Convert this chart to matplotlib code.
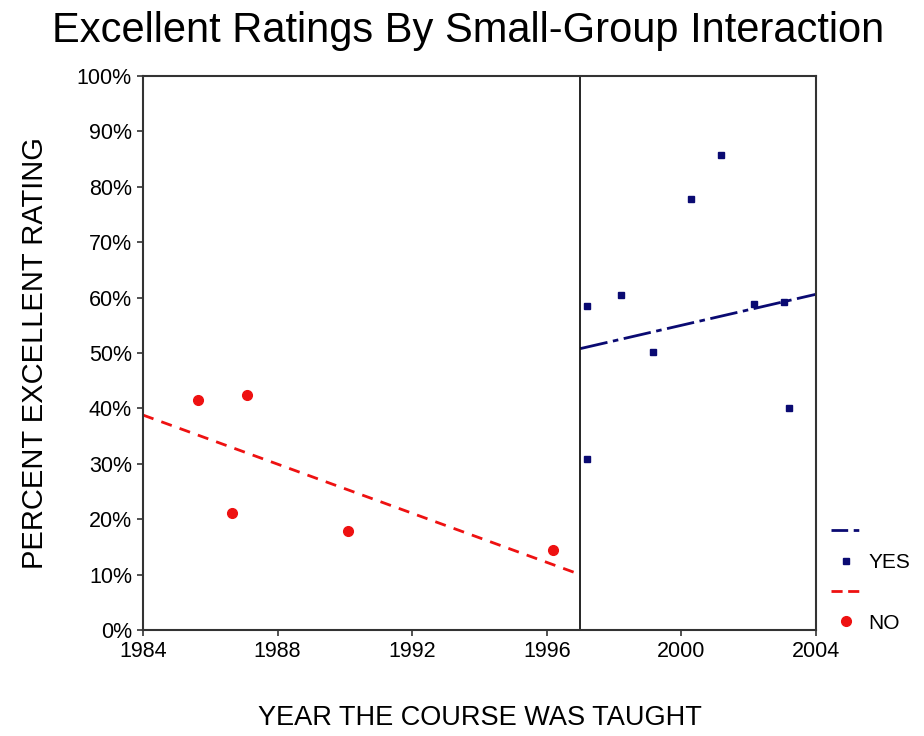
import matplotlib
matplotlib.use("Agg")
import matplotlib.pyplot as plt
from matplotlib.lines import Line2D

plt.rcParams['font.family'] = ['Liberation Sans', 'DejaVu Sans']

# data
no_years = [1985.63, 1986.65, 1987.10, 1990.08, 1996.20]
no_pct = [41.6, 21.1, 42.4, 17.9, 14.4]
yes_years = [1997.19, 1997.19, 1998.20, 1999.17, 2000.30, 2001.19, 2002.17, 2003.06, 2003.19]
yes_pct = [58.4, 30.9, 60.5, 50.1, 77.8, 85.7, 58.9, 59.3, 40.0]

# fitted trend lines (end points as drawn)
no_trend_x = [1984, 1997]
no_trend_y = [38.8, 10.0]
yes_trend_x = [1997, 2004]
yes_trend_y = [50.8, 60.6]

x_ticks = [1984, 1988, 1992, 1996, 2000, 2004]
y_ticks = list(range(0, 101, 10))
cutoff_year = 1997

red = '#ee1111'
navy = '#0a0a72'

fig = plt.figure(figsize=(9.24, 7.36), dpi=100)
ax = fig.add_axes([0.1548, 0.144, 0.7282, 0.7527])

ax.plot(no_trend_x, no_trend_y, color=red, lw=2, ls=(0, (4, 3)))
ax.plot(yes_trend_x, yes_trend_y, color=navy, lw=2, ls=(0, (10, 2, 2, 2)))
ax.plot(no_years, no_pct, 'o', color=red, ms=7, ls='none')
ax.plot(yes_years, yes_pct, 's', color=navy, ms=5, ls='none')
ax.axvline(cutoff_year, color='black', lw=1.2)

ax.set_xlim(1984, 2004)
ax.set_ylim(0, 100)
ax.set_xticks(x_ticks)
ax.set_yticks(y_ticks)
ax.set_yticklabels([f"{v}%" for v in y_ticks])
ax.tick_params(labelsize=15.5, length=4, width=1.2, color='#333333', pad=4)
for s in ax.spines.values():
    s.set_linewidth(1.5)
    s.set_color('#333333')

ax.set_xlabel("YEAR THE COURSE WAS TAUGHT", fontsize=19.5, labelpad=31)
ax.set_ylabel("PERCENT EXCELLENT RATING", fontsize=21, labelpad=20)
fig.text(0.507, 0.958, "Excellent Ratings By Small-Group Interaction",
         fontsize=30, ha='center', va='center')

handles = [
    Line2D([], [], color=navy, lw=2, ls=(0, (6, 2, 2, 2))),
    Line2D([], [], color=navy, marker='s', ms=5, ls='none'),
    Line2D([], [], color=red, lw=2, ls=(0, (4, 2))),
    Line2D([], [], color=red, marker='o', ms=7, ls='none'),
]
ax.legend(handles, ['', 'YES', '', 'NO'], loc='lower left',
          bbox_to_anchor=(1.01, -0.02), frameon=False, fontsize=15,
          handlelength=1.4, handletextpad=0.4, labelspacing=0.55,
          borderaxespad=0)

fig.savefig("out.png", dpi=100)
